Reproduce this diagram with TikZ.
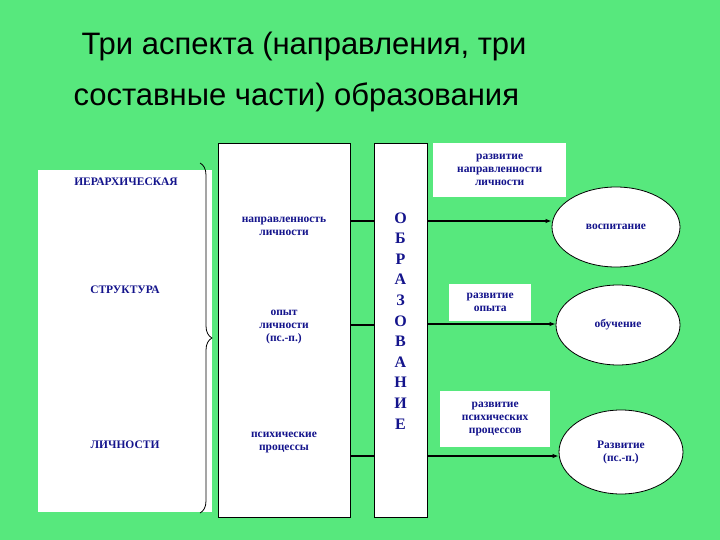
\documentclass[tikz,border=0pt]{standalone}
\usepackage{fontspec}
\setmainfont{Liberation Serif}
\newfontfamily\titlefont{Liberation Sans}
\usetikzlibrary{arrows.meta,decorations.pathreplacing,shapes.geometric}
\definecolor{bg}{RGB}{87,232,125}
\definecolor{tx}{RGB}{20,20,140}
\begin{document}
\begin{tikzpicture}[x=1pt,y=-1pt,
  lbl/.style={text=tx,font=\bfseries\fontsize{11.5}{13}\selectfont,align=center,fill=white,inner sep=1pt},
  panel/.style={draw=black,line width=1.2pt,fill=white},
  ell/.style={draw=black,fill=white,ellipse,line width=0.8pt,text=tx,font=\bfseries\fontsize{11.5}{13}\selectfont,align=center},
  conn/.style={line width=1.3pt},
  arr/.style={line width=1.3pt,-{Latex[length=6pt]}}]
\useasboundingbox (0,0) rectangle (720,540);
\fill[bg] (0,0) rectangle (720,540);
\node[font=\titlefont\fontsize{31}{51}\selectfont,anchor=west] (t1) at (78,46) {Три аспекта (направления, три};
\node[font=\titlefont\fontsize{31}{51}\selectfont,anchor=west] (t2) at (70,97) {составные части) образования};
% left panel
\fill[white] (38,170) rectangle (212,512);
\coordinate (bt) at (200,163); \coordinate (bb) at (200,513);
\draw[line width=0.8pt,decorate,decoration={brace,amplitude=12pt}] (bt) -- (bb);
\node[lbl] (l1) at (126,182) {ИЕРАРХИЧЕСКАЯ};
\node[lbl] (l2) at (125,290) {СТРУКТУРА};
\node[lbl] (l3) at (125,445) {ЛИЧНОСТИ};
% middle
\node[panel,minimum width=132pt,minimum height=374pt,anchor=north west] (mid) at (218,143) {};
\node[lbl] (m1) at (284,226) {направленность\\личности};
\node[lbl] (m2) at (284,327) {опыт\\личности\\(пс.-п.)};
\node[lbl] (m3) at (284,443) {психические\\процессы};
% obrazovanie
\node[panel,minimum width=53pt,minimum height=374pt,anchor=north west] (obr) at (374,143) {};
\node[text=tx,font=\bfseries\fontsize{16}{20.6}\selectfont,align=center,anchor=north] (ow) at (400.5,209) {О\\Б\\Р\\А\\З\\О\\В\\А\\Н\\И\\Е};
\coordinate (c1) at (350,221); \coordinate (d1) at (374,221);
\coordinate (c2) at (350,325); \coordinate (d2) at (374,325);
\coordinate (c3) at (350,456); \coordinate (d3) at (374,456);
\draw[conn] (c1) -- (d1); \draw[conn] (c2) -- (d2); \draw[conn] (c3) -- (d3);
% right
\node[lbl,minimum width=133pt,minimum height=54pt,anchor=north west] (r1) at (433,143) {развитие\\направленности\\личности};
\node[lbl,minimum width=82pt,minimum height=37pt,anchor=north west] (r2) at (449,284) {развитие\\опыта};
\node[lbl,minimum width=110pt,minimum height=56pt,anchor=north west] (r3) at (440,391) {развитие\\психических\\процессов};
\node[ell,minimum width=128pt,minimum height=80pt] (e1) at (616,227) {воспитание};
\node[ell,minimum width=124pt,minimum height=80pt] (e2) at (618,325) {обучение};
\node[ell,minimum width=124pt,minimum height=84pt] (e3) at (621,452) {Развитие\\(пс.-п.)};
\coordinate (s1) at (427,221); \coordinate (s2) at (427,324); \coordinate (s3) at (427,456);
\draw[arr] (s1) -- (s1 -| e1.west);
\draw[arr] (s2) -- (s2 -| e2.west);
\draw[arr,line width=2pt] (s3) -- (s3 -| e3.west);
\end{tikzpicture}
\end{document}
